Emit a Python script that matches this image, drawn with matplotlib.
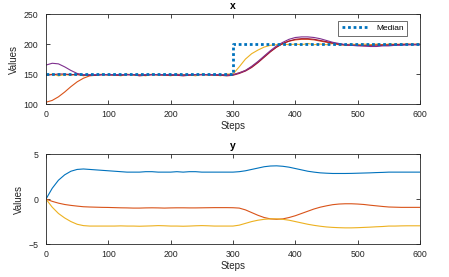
import matplotlib
matplotlib.use("Agg")
import matplotlib.pyplot as plt

plt.rcParams['font.family'] = ['Liberation Sans', 'DejaVu Sans']

steps = list(range(0, 601, 10))

median_steps = [0, 300, 600]
median_vals = [150, 200, 200]

x_purple = [165, 168, 167, 162, 156, 151, 149, 149, 149, 149,
            149, 149, 149, 149, 149, 148, 149, 149, 149, 149,
            149, 149, 148, 149, 149, 149, 149, 149, 149, 148,
            149, 152, 156, 163, 171, 180, 189, 197, 203, 208,
            211, 212, 212, 211, 209, 206, 203, 201, 199, 198,
            197, 197, 196, 196, 197, 197, 198, 198, 199, 199, 199]
x_orange = [103, 106, 112, 120, 129, 137, 143, 147, 148, 149,
            149, 149, 149, 149, 149, 149, 149, 149, 149, 149,
            149, 149, 149, 149, 149, 149, 149, 149, 149, 149,
            149, 152, 156, 162, 170, 179, 188, 195, 201, 205,
            207, 208, 208, 207, 205, 203, 201, 199, 198, 198,
            198, 198, 198, 199, 199, 199, 199, 200, 200, 200, 200]
x_red = [148, 149, 150, 150, 149, 149, 148, 148, 148, 149,
         149, 148, 148, 149, 149, 147, 148, 149, 149, 148,
         148, 148, 147, 148, 149, 149, 149, 148, 148, 147,
         148, 151, 155, 161, 169, 178, 187, 195, 201, 205,
         208, 209, 209, 208, 206, 204, 202, 200, 199, 198,
         198, 197, 197, 197, 198, 198, 199, 199, 199, 199, 199]
x_yellow = [148, 150, 147, 149, 148, 150, 147, 149, 148, 150,
            148, 149, 147, 150, 148, 149, 147, 150, 148, 149,
            147, 150, 148, 149, 147, 150, 148, 149, 147, 150,
            150, 162, 175, 184, 190, 195, 198, 199, 200, 199,
            200, 199, 201, 199, 200, 199, 201, 200, 199, 200,
            199, 200, 199, 200, 199, 200, 200, 199, 200, 199, 200]

y_blue = [0.0, 1.2, 2.1, 2.7, 3.1, 3.3, 3.35, 3.3, 3.25, 3.2,
          3.15, 3.1, 3.05, 3.0, 3.0, 3.0, 3.05, 3.05, 3.0, 3.0,
          3.0, 3.05, 3.0, 3.05, 3.05, 3.0, 3.0, 3.0, 3.0, 3.0,
          3.0, 3.05, 3.15, 3.3, 3.45, 3.6, 3.68, 3.7, 3.65, 3.55,
          3.4, 3.25, 3.1, 3.0, 2.92, 2.88, 2.85, 2.85, 2.85, 2.86,
          2.88, 2.9, 2.92, 2.95, 2.97, 3.0, 3.0, 3.0, 3.0, 3.0, 3.0]
y_orange = [0.0, -0.25, -0.45, -0.6, -0.7, -0.78, -0.85, -0.88, -0.9, -0.92,
            -0.93, -0.95, -0.97, -0.98, -1.0, -1.0, -0.98, -0.97, -0.98, -1.0,
            -0.98, -0.97, -0.97, -0.98, -0.98, -0.97, -0.96, -0.95, -0.95, -0.95,
            -0.96, -1.0, -1.2, -1.5, -1.8, -2.05, -2.2, -2.25, -2.2, -2.05,
            -1.85, -1.6, -1.35, -1.1, -0.9, -0.75, -0.62, -0.55, -0.52, -0.52,
            -0.55, -0.6, -0.68, -0.75, -0.82, -0.88, -0.9, -0.92, -0.92, -0.92, -0.92]
y_yellow = [0.0, -0.9, -1.6, -2.1, -2.5, -2.8, -2.95, -3.0, -3.0, -3.0,
            -3.0, -3.0, -2.98, -3.0, -3.0, -3.02, -3.0, -2.98, -2.95, -2.97,
            -3.0, -3.0, -3.02, -3.0, -2.97, -2.95, -2.97, -3.0, -3.0, -3.0,
            -3.0, -2.9, -2.7, -2.5, -2.35, -2.25, -2.2, -2.2, -2.25, -2.35,
            -2.5, -2.65, -2.8, -2.92, -3.02, -3.1, -3.15, -3.18, -3.2, -3.2,
            -3.18, -3.15, -3.12, -3.08, -3.05, -3.0, -3.0, -2.98, -2.97, -2.97, -2.97]

blue = '#0072BD'
orange = '#D95319'
yellow = '#EDB120'
purple = '#7E2F8E'
red = '#A2142F'
txt = '#262626'

fig = plt.figure(figsize=(4.49, 2.77), dpi=100)
ax1 = fig.add_axes([0.1024, 0.6245, 0.833, 0.3245])
ax2 = fig.add_axes([0.1024, 0.119, 0.833, 0.3245])

ax1.plot(steps, x_yellow, color=yellow, lw=0.8)
ax1.plot(steps, x_orange, color=orange, lw=0.8)
ax1.plot(steps, x_red, color=red, lw=0.8)
ax1.plot(steps, x_purple, color=purple, lw=0.8)
ax1.plot(median_steps, median_vals, color=blue, lw=2, ls=(0, (1, 1)),
         drawstyle='steps-post', label='Median')
ax1.set_ylim(100, 250)
ax1.set_yticks([100, 150, 200, 250])
leg = ax1.legend(loc='upper right', bbox_to_anchor=(0.965, 0.922), borderaxespad=0,
                 fontsize=6, frameon=True, fancybox=False, edgecolor='#555555',
                 framealpha=1, handlelength=3.3, handletextpad=0.8, borderpad=0.4)
leg.get_frame().set_linewidth(0.6)
ax1.set_title('x', fontsize=7.5, fontweight='bold', color='black', pad=4)

ax2.plot(steps, y_blue, color=blue, lw=0.8)
ax2.plot(steps, y_orange, color=orange, lw=0.8)
ax2.plot(steps, y_yellow, color=yellow, lw=0.8)
ax2.set_ylim(-5, 5)
ax2.set_yticks([-5, 0, 5])
ax2.set_title('y', fontsize=7.5, fontweight='bold', color='black', pad=4)

for ax in (ax1, ax2):
    ax.set_xlim(0, 600)
    ax.set_xticks(range(0, 601, 100))
    ax.set_xlabel('Steps', fontsize=7, color=txt, labelpad=2)
    ax.set_ylabel('Values', fontsize=7, color=txt, labelpad=3)
    ax.tick_params(direction='in', top=True, right=True, labelsize=6.3,
                   colors=txt, length=3, width=0.6)
    ax.tick_params(axis='x', pad=4)
    ax.tick_params(axis='y', pad=5.5)
    for s in ax.spines.values():
        s.set_color(txt)
        s.set_linewidth(0.6)

fig.savefig('out.png', dpi=100)
